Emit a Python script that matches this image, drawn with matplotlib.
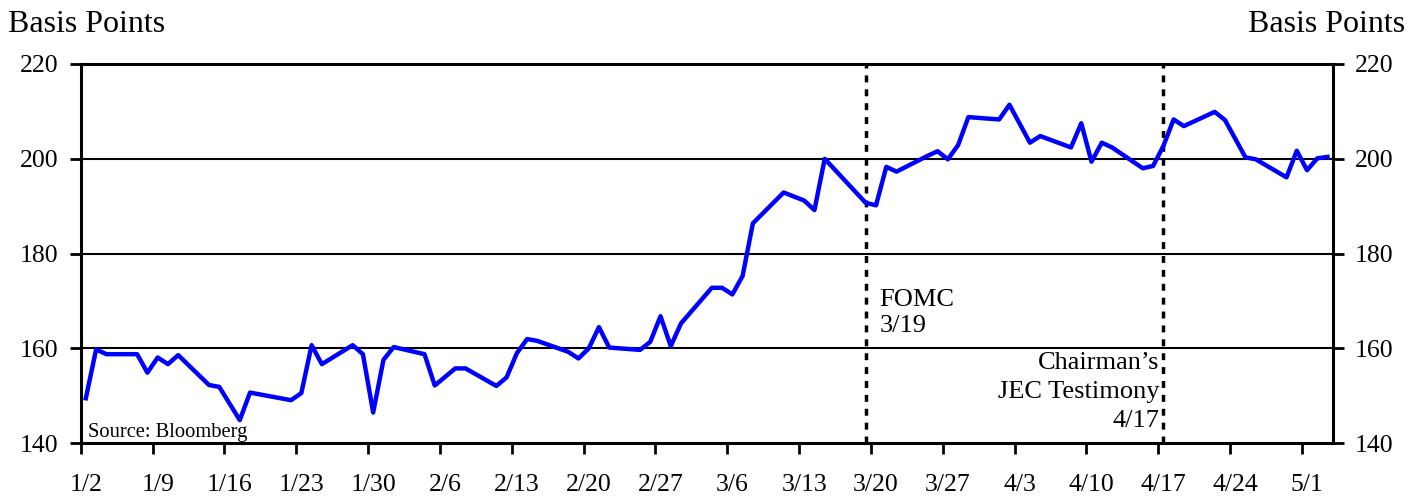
import matplotlib
matplotlib.use("Agg")
import matplotlib.pyplot as plt
import pandas as pd

# spread in basis points, business days 2002
dates = ['2002-01-02', '2002-01-03', '2002-01-04', '2002-01-07', '2002-01-08',
         '2002-01-09', '2002-01-10', '2002-01-11', '2002-01-14', '2002-01-15',
         '2002-01-17', '2002-01-18', '2002-01-22', '2002-01-23', '2002-01-24',
         '2002-01-25', '2002-01-28', '2002-01-29', '2002-01-30', '2002-01-31',
         '2002-02-01', '2002-02-04', '2002-02-05', '2002-02-07', '2002-02-08',
         '2002-02-11', '2002-02-12', '2002-02-13', '2002-02-14', '2002-02-15',
         '2002-02-18', '2002-02-19', '2002-02-20', '2002-02-21', '2002-02-22',
         '2002-02-25', '2002-02-26', '2002-02-27', '2002-02-28', '2002-03-01',
         '2002-03-04', '2002-03-05', '2002-03-06', '2002-03-07', '2002-03-08',
         '2002-03-11', '2002-03-13', '2002-03-14', '2002-03-15', '2002-03-19',
         '2002-03-20', '2002-03-21', '2002-03-22', '2002-03-25', '2002-03-26',
         '2002-03-27', '2002-03-28', '2002-03-29', '2002-04-01', '2002-04-02',
         '2002-04-04', '2002-04-05', '2002-04-08', '2002-04-09', '2002-04-10',
         '2002-04-11', '2002-04-12', '2002-04-15', '2002-04-16', '2002-04-17',
         '2002-04-18', '2002-04-19', '2002-04-22', '2002-04-23', '2002-04-25',
         '2002-04-26', '2002-04-29', '2002-04-30', '2002-05-01', '2002-05-02',
         '2002-05-03']
spread = [149.5, 159.8, 158.8, 158.8, 154.9,
          158.1, 156.7, 158.6, 152.3, 151.9,
          144.9, 150.7, 149.1, 150.6, 160.7,
          156.7, 160.7, 158.8, 146.5, 157.6,
          160.3, 158.8, 152.2, 155.8, 155.8,
          152.1, 153.9, 159.0, 162.0, 161.6,
          159.3, 157.9, 160.0, 164.5, 160.2,
          159.7, 161.4, 166.8, 160.5, 165.3,
          172.8, 172.8, 171.4, 175.3, 186.4,
          192.9, 191.2, 189.2, 200.0, 190.7,
          190.2, 198.3, 197.3, 200.6, 201.6,
          199.9, 202.9, 208.8, 208.3, 211.4,
          203.4, 204.8, 202.4, 207.5, 199.4,
          203.4, 202.4, 198.0, 198.5, 202.7,
          208.3, 206.9, 209.9, 208.2, 200.3,
          199.9, 196.1, 201.7, 197.6, 200.1,
          200.4]

tick_dates = pd.date_range('2002-01-02', '2002-05-01', freq='7D')
tick_labels = [f"{d.month}/{d.day}" for d in tick_dates]
event_dates = ['2002-03-19', '2002-04-17']

# daily values are drawn at the middle of their day, ticks at day boundaries
midday = pd.Timedelta(hours=12)

plt.rcParams['font.family'] = ['Liberation Serif', 'DejaVu Serif']

fig = plt.figure(figsize=(14.11, 4.96), dpi=100)
ax = fig.add_axes([0.0572, 0.1062, 0.8873, 0.7648])

x = pd.to_datetime(dates) + midday
for yv in [160, 180, 200]:
    ax.axhline(yv, color='black', lw=1.5, zorder=1)
for e in event_dates:
    ax.axvline(pd.Timestamp(e) + midday, color='black', lw=2.5, ls=(0, (2, 2)), zorder=2)
ax.plot(x, spread, color='#0000ff', lw=3.2, zorder=3)

ax.set_xlim(pd.Timestamp('2002-01-02'), pd.Timestamp('2002-05-04'))
ax.set_ylim(140, 220)
ax.set_yticks(range(140, 221, 20))

# tick marks on day boundaries, labels centred on the day
ax.set_xticks(tick_dates)
ax.set_xticklabels([])
ax.set_xticks(tick_dates + midday, minor=True)
ax.set_xticklabels(tick_labels, minor=True)

ax.tick_params(axis='y', left=True, right=True, labelright=True, direction='out',
               length=8, width=2, labelsize=18.5, pad=8)
ax.tick_params(axis='x', which='major', direction='out', length=8, width=2)
ax.tick_params(axis='x', which='minor', length=0, labelsize=18.5, pad=22)
for s in ax.spines.values():
    s.set_linewidth(2.2)

fig.text(8 / 1411, 1 - 32 / 496, 'Basis Points', fontsize=23, ha='left', va='baseline')
fig.text(1405 / 1411, 1 - 32 / 496, 'Basis Points', fontsize=23, ha='right', va='baseline')

ax.text(pd.Timestamp('2002-03-19') + pd.Timedelta(hours=44), 172.5, 'FOMC\n3/19',
        fontsize=19, ha='left', va='top')
ax.text(pd.Timestamp('2002-04-17') + pd.Timedelta(hours=3), 159.3,
        'Chairman\u2019s\nJEC Testimony\n4/17', fontsize=19, ha='right', va='top',
        multialignment='right', linespacing=1.42)
ax.text(0.006, 0.017, 'Source: Bloomberg', transform=ax.transAxes, fontsize=14.8,
        ha='left', va='baseline')

fig.savefig('out.png', dpi=100)
